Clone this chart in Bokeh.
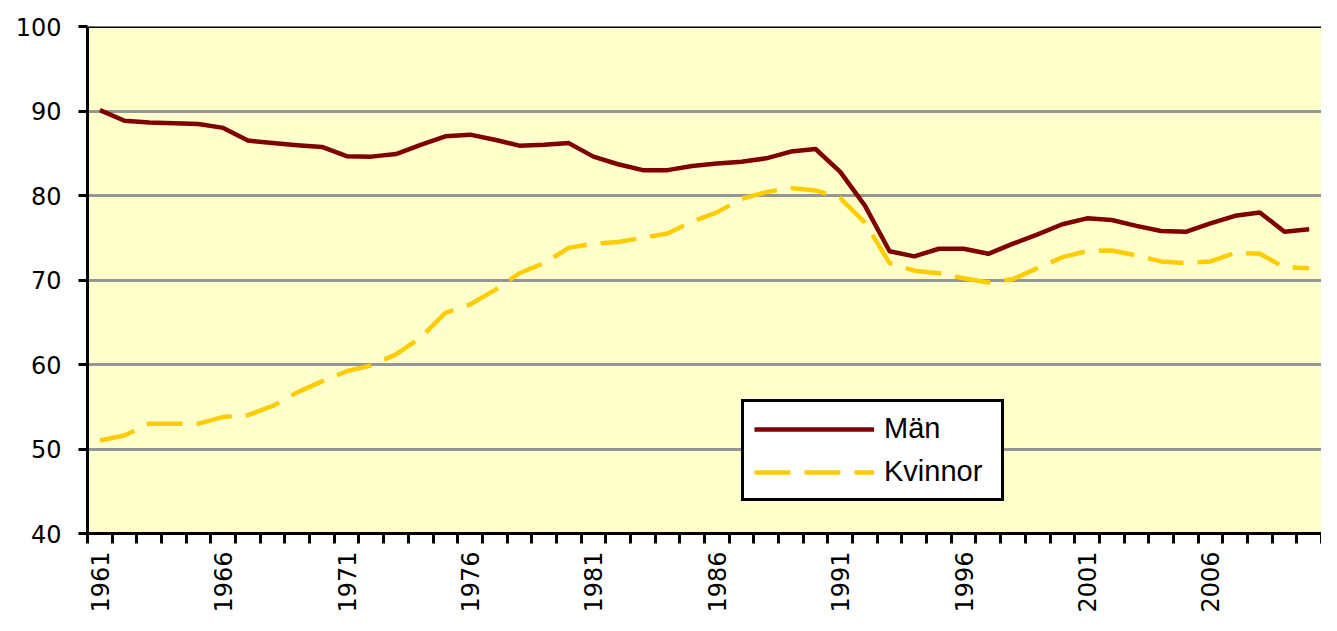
import math
from bokeh.plotting import figure
from bokeh.models import Range1d, FixedTicker, Legend, LegendItem, Span
from bokeh.embed import file_html
from bokeh.resources import INLINE

years = list(range(1961, 2011))
man = [90.1, 88.85, 88.65, 88.55, 88.45, 88.0, 86.5, 86.2, 85.95, 85.75,
       84.65, 84.6, 84.9, 86.0, 87.0, 87.2, 86.6, 85.9, 86.0, 86.2,
       84.6, 83.7, 83.0, 83.0, 83.5, 83.8, 84.0, 84.4, 85.2, 85.5,
       82.8, 78.8, 73.4, 72.8, 73.7, 73.7, 73.1, 74.3, 75.4, 76.6,
       77.3, 77.1, 76.4, 75.8, 75.7, 76.7, 77.6, 78.0, 75.7, 76.0]
kvinnor = [51.0, 51.6, 53.0, 53.0, 53.0, 53.8, 54.0, 55.1, 56.7, 58.0,
           59.2, 59.9, 61.2, 63.2, 66.1, 67.1, 68.8, 70.8, 72.0, 73.8,
           74.3, 74.5, 75.0, 75.5, 76.9, 78.0, 79.6, 80.4, 80.9, 80.6,
           79.7, 76.8, 72.0, 71.1, 70.8, 70.2, 69.7, 70.1, 71.4, 72.7,
           73.4, 73.5, 72.9, 72.2, 72.0, 72.2, 73.2, 73.1, 71.5, 71.4]
label_years = years[::5]
y_ticks = [40, 50, 60, 70, 80, 90, 100]
series_names = ["Män", "Kvinnor"]

boundaries = [y - 0.5 for y in years] + [years[-1] + 0.5]

p = figure(width=1321, height=615,
           x_range=Range1d(years[0] - 0.5, years[-1] + 0.5),
           y_range=Range1d(40, 100),
           output_backend="svg", toolbar_location=None,
           min_border_left=87, min_border_right=0,
           min_border_top=26, min_border_bottom=0)
p.background_fill_color = "#FFFFCC"
p.border_fill_color = "white"
p.outline_line_color = None

# y axis
p.yaxis.ticker = FixedTicker(ticks=y_ticks)
p.yaxis.axis_line_width = 3
p.yaxis.axis_line_color = "black"
p.yaxis.major_tick_out = 9
p.yaxis.major_tick_in = 0
p.yaxis.major_tick_line_width = 3
p.yaxis.major_tick_line_color = "black"
p.yaxis.minor_tick_line_color = None
p.yaxis.major_label_text_font = "DejaVu Sans"
p.yaxis.major_label_text_font_size = "24px"
p.yaxis.major_label_text_color = "black"
p.yaxis.major_label_standoff = 17

# x axis
p.xaxis.ticker = FixedTicker(ticks=label_years, minor_ticks=boundaries)
p.xaxis.axis_line_width = 3
p.xaxis.axis_line_color = "black"
p.xaxis.major_tick_line_color = None
p.xaxis.major_tick_out = 0
p.xaxis.major_tick_in = 0
p.xaxis.minor_tick_out = 10
p.xaxis.minor_tick_in = 0
p.xaxis.minor_tick_line_width = 3
p.xaxis.minor_tick_line_color = "black"
p.xaxis.major_label_orientation = math.pi / 2
p.xaxis.major_label_text_font = "DejaVu Sans"
p.xaxis.major_label_text_font_size = "24px"
p.xaxis.major_label_text_color = "black"
p.xaxis.major_label_standoff = 8

p.xgrid.grid_line_color = None
p.ygrid.grid_line_color = "#969696"
p.ygrid.grid_line_width = 3

top = Span(location=100, dimension="width", line_color="black", line_width=3)
p.add_layout(top)

r1 = p.line(years, man, line_color="#800000", line_width=4.5, line_join="round")
r2 = p.line(years, kvinnor, line_color="#FFCC00", line_width=4.5,
            line_dash="36 14", line_join="round")

legend = Legend(items=[LegendItem(label=series_names[0], renderers=[r1]),
                       LegendItem(label=series_names[1], renderers=[r2])],
                location=(654, 32))
legend.margin = 0
legend.padding = 10
legend.spacing = 10
legend.glyph_width = 120
legend.glyph_height = 30
legend.label_height = 30
legend.label_width = 107
legend.label_standoff = 10
legend.label_text_font = "Liberation Sans"
legend.label_text_font_size = "29px"
legend.label_text_color = "black"
legend.border_line_color = "black"
legend.border_line_alpha = 1.0
legend.border_line_width = 3
legend.background_fill_color = "white"
legend.background_fill_alpha = 1.0
p.add_layout(legend)

open("out.html", "w").write(file_html(p, INLINE))
